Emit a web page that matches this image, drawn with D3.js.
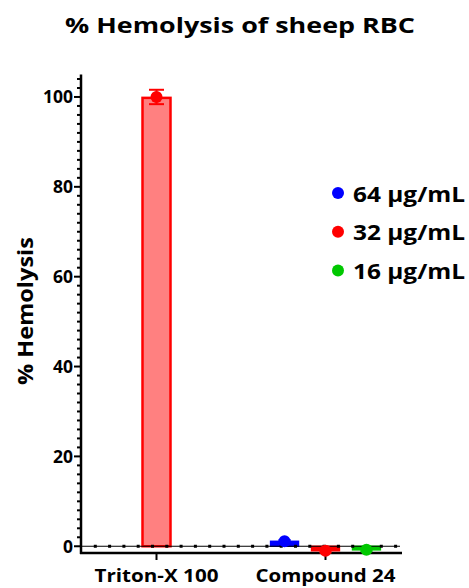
<!DOCTYPE html>
<html>
<head>
<meta charset="utf-8">
<script src="https://cdn.jsdelivr.net/npm/d3@7"></script>
<style>
  body { margin: 0; background: #fff; }
  svg text { font-family: "Open Sans", sans-serif; font-weight: bold; fill: #000; }
</style>
</head>
<body>
<svg id="chart" width="469" height="588"></svg>
<script>
const groups = ["Triton-X 100", "Compound 24"];
const groupLabelWidths = [124, 140];
const doses = ["64 μg/mL", "32 μg/mL", "16 μg/mL"];
const doseColors = ["#0000ff", "#ff0000", "#00c800"];

const tritonValue = 99.8;
const tritonMean = 100;
const tritonErr = 1.6;

const compoundValues = [1.1, -1.0, -0.8];
const compoundErrs = [0.3, 0.4, 0.3];

const yTicks = [0, 20, 40, 60, 80, 100];

const svg = d3.select("#chart");

const y = d3.scaleLinear().domain([-1.5, 105]).range([553, 74.5]);
const x = d3.scaleBand().domain(groups).range([72, 410]).padding(0);
const cx24 = x("Compound 24") + x.bandwidth() / 2;
const xDose = d3.scaleBand().domain(doses)
  .range([cx24 - 68, cx24 + 68])
  .padding(0.32);

const axisLeft = 81, axisRight = 402;

// title
svg.append("text")
  .attr("x", 240).attr("y", 33)
  .attr("text-anchor", "middle")
  .attr("textLength", 350).attr("lengthAdjust", "spacingAndGlyphs")
  .style("font-size", "21px")
  .text("% Hemolysis of sheep RBC");

// y axis label
svg.append("text")
  .attr("transform", "translate(32.5,311) rotate(-90)")
  .attr("text-anchor", "middle")
  .attr("textLength", 148).attr("lengthAdjust", "spacingAndGlyphs")
  .style("font-size", "22px")
  .text("% Hemolysis");

// y axis
const yAxisG = svg.append("g").attr("transform", `translate(${axisLeft},0)`);
yAxisG.append("line")
  .attr("x1", 0).attr("x2", 0)
  .attr("y1", y(105)).attr("y2", y(-1.5) + 1)
  .attr("stroke", "#000").attr("stroke-width", 2.5);
yAxisG.selectAll("line.minor")
  .data(d3.range(0, 105, 2).filter(d => d % 20 !== 0))
  .enter().append("line")
  .attr("class", "minor")
  .attr("x1", -4).attr("x2", 0)
  .attr("y1", d => y(d)).attr("y2", d => y(d))
  .attr("stroke", "#000").attr("stroke-width", 2);
yAxisG.selectAll("line.major")
  .data(yTicks)
  .enter().append("line")
  .attr("class", "major")
  .attr("x1", -7).attr("x2", 0)
  .attr("y1", d => y(d)).attr("y2", d => y(d))
  .attr("stroke", "#000").attr("stroke-width", 2);
yAxisG.selectAll("text")
  .data(yTicks)
  .enter().append("text")
  .attr("x", -8).attr("y", d => y(d) + 6.5)
  .attr("text-anchor", "end")
  .style("font-size", "17.5px")
  .text(d => d);

// x axis
const xAxisG = svg.append("g");
xAxisG.append("line")
  .attr("x1", axisLeft - 1).attr("x2", axisRight)
  .attr("y1", y(-1.5)).attr("y2", y(-1.5))
  .attr("stroke", "#000").attr("stroke-width", 2.5);
xAxisG.selectAll("line.tick")
  .data(groups)
  .enter().append("line")
  .attr("class", "tick")
  .attr("x1", d => x(d) + x.bandwidth() / 2).attr("x2", d => x(d) + x.bandwidth() / 2)
  .attr("y1", y(-1.5)).attr("y2", y(-1.5) + 7)
  .attr("stroke", "#000").attr("stroke-width", 2);
xAxisG.selectAll("text")
  .data(groups)
  .enter().append("text")
  .attr("x", d => x(d) + x.bandwidth() / 2)
  .attr("y", 582)
  .attr("text-anchor", "middle")
  .attr("textLength", (d, i) => groupLabelWidths[i]).attr("lengthAdjust", "spacingAndGlyphs")
  .style("font-size", "18.5px")
  .text(d => d);

// Triton bar
const tx = x("Triton-X 100") + x.bandwidth() / 2;
svg.append("rect")
  .attr("x", tx - 14).attr("width", 28)
  .attr("y", y(tritonValue)).attr("height", y(0) - y(tritonValue))
  .attr("fill", "#ff8080")
  .attr("stroke", "#ff0000").attr("stroke-width", 2.5);

// Compound bars
svg.selectAll("rect.dose")
  .data(compoundValues)
  .enter().append("rect")
  .attr("class", "dose")
  .attr("x", (d, i) => xDose(doses[i]))
  .attr("width", xDose.bandwidth())
  .attr("y", d => y(Math.max(0, d)))
  .attr("height", d => Math.abs(y(d) - y(0)))
  .attr("fill", (d, i) => doseColors[i])
  .attr("stroke", (d, i) => doseColors[i])
  .attr("stroke-width", 1.5);

// zero line with dots
svg.append("line")
  .attr("x1", axisLeft).attr("x2", axisRight - 2)
  .attr("y1", y(0)).attr("y2", y(0))
  .attr("stroke", "#000").attr("stroke-width", 1.2);
svg.selectAll("rect.dot")
  .data(d3.range(axisLeft + 14.3, axisRight - 4, 14.3))
  .enter().append("rect")
  .attr("class", "dot")
  .attr("x", d => d - 1.5).attr("y", y(0) - 1.5)
  .attr("width", 3).attr("height", 3)
  .attr("fill", "#000");

// error bars + points
function errorBar(cx, mean, err, color, capW) {
  svg.append("line")
    .attr("x1", cx).attr("x2", cx)
    .attr("y1", y(mean - err)).attr("y2", y(mean + err))
    .attr("stroke", color).attr("stroke-width", 2);
  [mean - err, mean + err].forEach(v => {
    svg.append("line")
      .attr("x1", cx - capW / 2).attr("x2", cx + capW / 2)
      .attr("y1", y(v)).attr("y2", y(v))
      .attr("stroke", color).attr("stroke-width", 2);
  });
  svg.append("circle")
    .attr("cx", cx).attr("cy", y(mean))
    .attr("r", 6)
    .attr("fill", color);
}

errorBar(tx, tritonMean, tritonErr, "#ff0000", 15);
compoundValues.forEach((v, i) => {
  errorBar(xDose(doses[i]) + xDose.bandwidth() / 2, v, compoundErrs[i], doseColors[i], 12);
});

// legend
const legend = svg.append("g").attr("transform", "translate(338,193)");
legend.selectAll("circle")
  .data(doses)
  .enter().append("circle")
  .attr("cx", 0).attr("cy", (d, i) => i * 38.7)
  .attr("r", 6)
  .attr("fill", (d, i) => doseColors[i]);
legend.selectAll("text")
  .data(doses)
  .enter().append("text")
  .attr("x", 15).attr("y", (d, i) => i * 38.7 + 8.5)
  .attr("textLength", 112).attr("lengthAdjust", "spacingAndGlyphs")
  .style("font-size", "22px")
  .text(d => d);
</script>
</body>
</html>
